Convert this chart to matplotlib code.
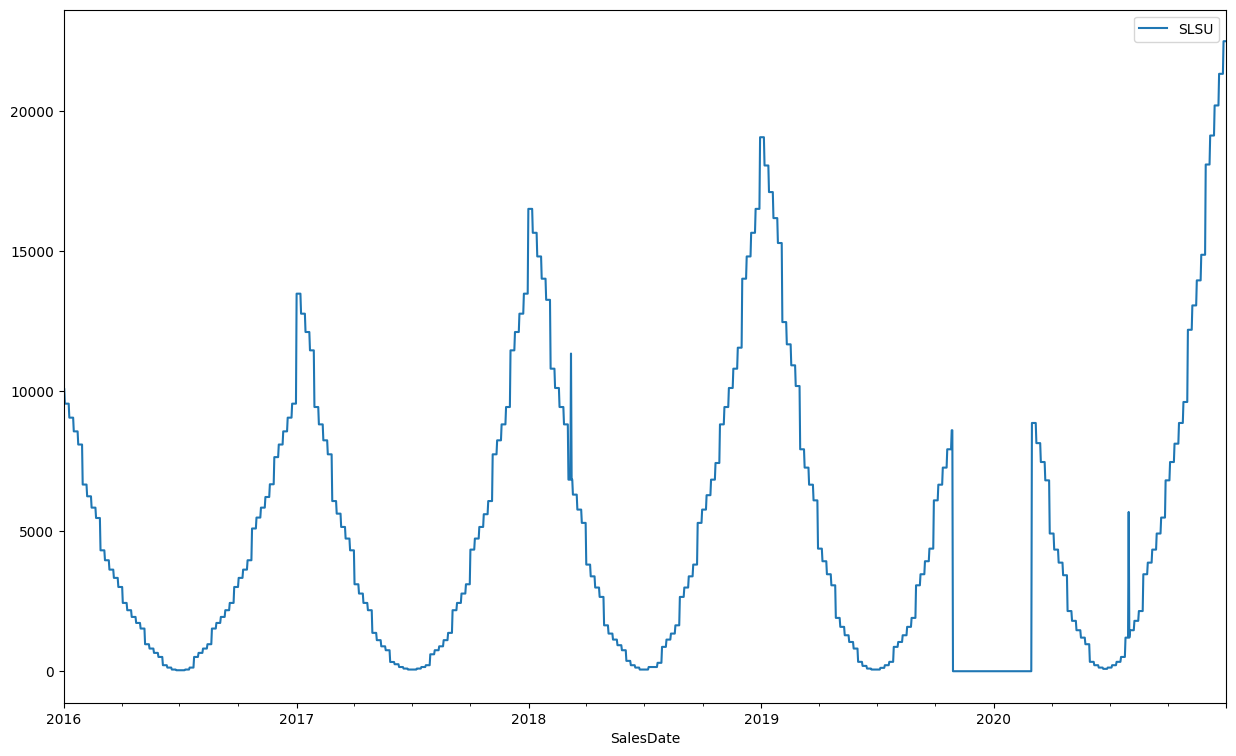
import numpy as np
import pandas as pd
import matplotlib
matplotlib.use("Agg")
import matplotlib.pyplot as plt

# weekly SLSU values (weeks start on Sunday)
start_value = [10100]  # 2016-01-01 .. 2016-01-02

w2016 = [9560, 9060, 8570, 8100, 6670, 6250, 5845, 5475, 4320, 3965,
         3630, 3335, 3010, 2440, 2180, 1940, 1725, 1525, 965, 810,
         655, 510, 215, 130, 60, 35, 35, 60, 130, 510,
         655, 810, 965, 1525, 1725, 1940, 2180, 2440, 3010, 3335,
         3630, 3965, 5100, 5490, 5845, 6225, 6680, 7650, 8100, 8570,
         9060, 9560]

w2017 = [13490, 12775, 12120, 11465, 9440, 8820, 8250, 7750, 6080, 5630,
         5155, 4740, 4320, 3107, 2775, 2440, 2180, 1370, 1110, 890,
         750, 330, 250, 150, 95, 60, 60, 95, 150, 215,
         605, 750, 890, 1110, 1370, 2180, 2440, 2775, 3107, 4345,
         4740, 5155, 5610, 6080, 7750, 8250, 8820, 9440, 11465, 12120,
         12775, 13490]

w2018 = [16520, 15665, 14820, 14025, 13270, 10810, 10120, 9440, 8820, 6845,
         6310, 5775, 5300, 3810, 3390, 2990, 2655, 1640, 1345, 1130,
         930, 750, 370, 215, 130, 60, 60, 150, 150, 300,
         870, 1130, 1345, 1640, 2655, 2990, 3390, 3810, 5300, 5775,
         6290, 6845, 7440, 8820, 9440, 10120, 10810, 11560, 14025, 14820,
         15665, 16520]

w2019 = [19080, 18070, 17120, 16190, 15300, 12475, 11680, 10930, 10190, 7930,
         7275, 6665, 6105, 4380, 3930, 3465, 3070, 1905, 1585, 1285,
         1045, 810, 335, 190, 95, 60, 60, 120, 215, 335,
         870, 1045, 1285, 1585, 1905, 3070, 3465, 3930, 4380, 6105,
         6665, 7275, 7930, 8610, 0, 0, 0, 0, 0, 0,
         0, 0]

w2020 = [0, 0, 0, 0, 0, 0, 0, 0, 0, 8870,
         8150, 7475, 6820, 4920, 4345, 3880, 3430, 2150, 1800, 1465,
         1200, 965, 335, 215, 130, 85, 130, 215, 335, 510,
         1200, 1465, 1800, 2150, 3465, 3880, 4345, 4920, 5490, 6820,
         7475, 8130, 8870, 9620, 12200, 13070, 13965, 14880, 18105, 19140,
         20215, 21345, 22510]

# single day outliers and the stretch with no sales
spike_days = ["2018-03-08", "2020-07-31"]
spike_values = [11350, 5690]
gap_start, gap_end = "2019-10-29", "2020-02-28"

weekly_vals = start_value + w2016 + w2017 + w2018 + w2019 + w2020
weeks = pd.date_range("2015-12-27", periods=len(weekly_vals), freq="7D")
weekly = pd.Series(weekly_vals, index=weeks, dtype=float)

days = pd.date_range("2016-01-01", "2020-12-31", freq="D", name="SalesDate")
slsu = weekly.reindex(weeks.union(days)).ffill().reindex(days)
slsu[gap_start:gap_end] = 0
for d, v in zip(spike_days, spike_values):
    slsu[d] = v

df = pd.DataFrame({"SLSU": slsu})

ax = df.plot(figsize=(15, 9))
ax.legend(loc="upper right")

plt.savefig("out.png", dpi=100, bbox_inches="tight")
